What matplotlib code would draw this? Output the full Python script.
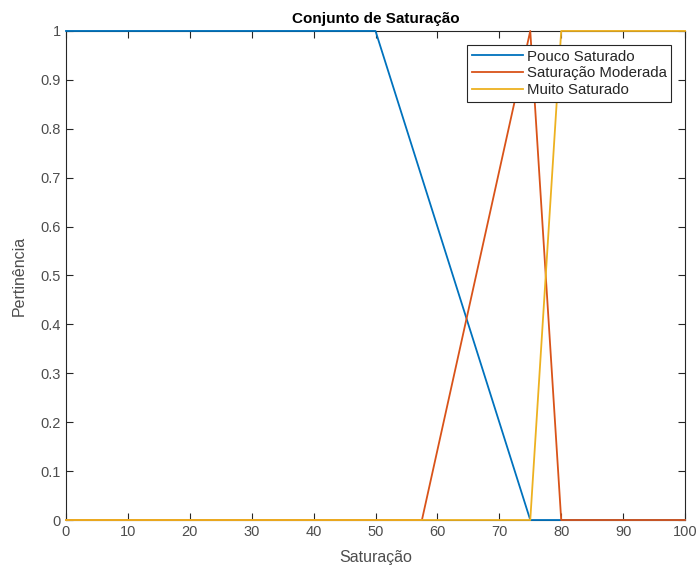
import matplotlib.pyplot as plt
import numpy as np

plt.rcParams['font.family'] = ['Liberation Sans', 'DejaVu Sans']

# membership functions (breakpoints)
x_pouco = [0, 50, 75, 100]
y_pouco = [1, 1, 0, 0]
x_moderada = [0, 57.5, 75, 80, 100]
y_moderada = [0, 0, 1, 0, 0]
x_muito = [0, 75, 80, 100]
y_muito = [0, 0, 1, 1]
labels = ['Pouco Saturado', 'Saturação Moderada', 'Muito Saturado']
colors = ['#0072BD', '#D95319', '#EDB120']

fig = plt.figure(figsize=(6.99, 5.68), dpi=100)
ax = fig.add_axes([0.0944, 0.0845, 0.8856, 0.861])

ax.plot(x_pouco, y_pouco, color=colors[0], lw=1.3, label=labels[0], clip_on=False, zorder=3)
ax.plot(x_moderada, y_moderada, color=colors[1], lw=1.3, label=labels[1], clip_on=False, zorder=3)
ax.plot(x_muito, y_muito, color=colors[2], lw=1.3, label=labels[2], clip_on=False, zorder=3)

ax.set_xlim(0, 100)
ax.set_ylim(0, 1)
ax.set_xticks(np.arange(0, 101, 10))
ax.set_yticks(np.arange(0, 1.01, 0.1))
ax.set_yticklabels(['0', '0.1', '0.2', '0.3', '0.4', '0.5', '0.6', '0.7', '0.8', '0.9', '1'])
ax.tick_params(direction='in', top=True, right=True, length=5, width=0.8,
               colors='#262626', labelsize=10.5, labelcolor='#4d4d4d')
for s in ax.spines.values():
    s.set_color('#262626')
    s.set_linewidth(0.8)

ax.set_xlabel('Saturação', fontsize=11.5, color='#4d4d4d', labelpad=8)
ax.set_ylabel('Pertinência', fontsize=11.5, color='#4d4d4d', labelpad=10)
ax.set_title('Conjunto de Saturação', fontsize=11, fontweight='bold', pad=6)

leg = ax.legend(loc='upper right', bbox_to_anchor=(0.978, 0.971), fontsize=10.8,
                fancybox=False, edgecolor='#262626', framealpha=1,
                handlelength=3.4, handletextpad=0.3, borderpad=0.3,
                labelspacing=0.18, borderaxespad=0)
leg.set_zorder(5)
leg.get_frame().set_linewidth(0.8)
for t in leg.get_texts():
    t.set_color('#262626')

fig.savefig('out.png', dpi=100)
